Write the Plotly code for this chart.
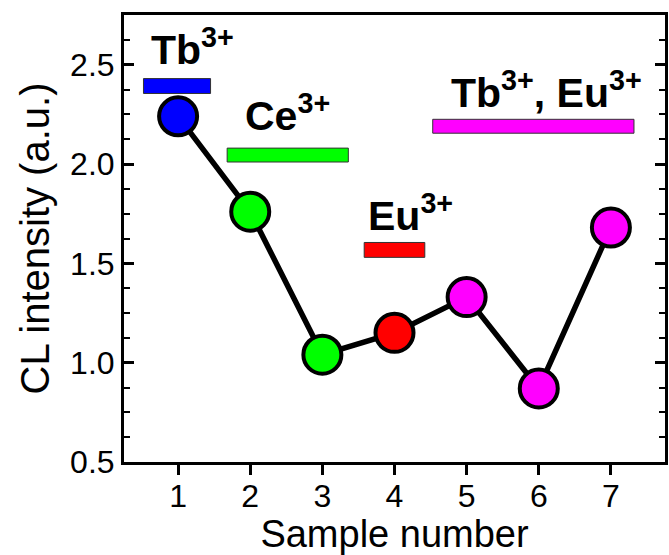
import plotly.graph_objects as go

# Data
sample = [1, 2, 3, 4, 5, 6, 7]
intensity = [2.24, 1.76, 1.04, 1.15, 1.33, 0.87, 1.68]
point_colors = ["#0000FF", "#00FF00", "#00FF00", "#FF0000", "#FF00FF", "#FF00FF", "#FF00FF"]

# Dopant group labels and their indicator bars (data coordinates)
group_labels = ["Tb<sup>3+</sup>", "Ce<sup>3+</sup>", "Eu<sup>3+</sup>", "Tb<sup>3+</sup>, Eu<sup>3+</sup>"]
group_colors = ["#0000FF", "#00FF00", "#FF0000", "#FF00FF"]
bar_x0 = [0.52, 1.68, 3.58, 4.53]
bar_x1 = [1.45, 3.36, 4.42, 7.32]
bar_y0 = [2.355, 2.01, 1.53, 2.155]
bar_y1 = [2.43, 2.08, 1.605, 2.225]
label_x = [0.60, 1.90, 3.60, 4.76]
label_y = [2.45, 2.115, 1.61, 2.23]

FONT = "Arial"

fig = go.Figure()
fig.add_trace(go.Scatter(
    x=sample, y=intensity, mode="lines+markers",
    line=dict(color="black", width=5.5),
    marker=dict(size=38, color=point_colors, line=dict(color="black", width=4)),
    showlegend=False,
))

for i in range(len(group_labels)):
    fig.add_shape(type="rect", xref="x", yref="y",
                  x0=bar_x0[i], x1=bar_x1[i], y0=bar_y0[i], y1=bar_y1[i],
                  fillcolor=group_colors[i], line=dict(color="#333333", width=1))
    fig.add_annotation(x=label_x[i], y=label_y[i], xref="x", yref="y",
                       text="<b>" + group_labels[i] + "</b>", showarrow=False,
                       xanchor="left", yanchor="bottom",
                       font=dict(family=FONT, size=41, color="black"))

fig.update_xaxes(
    range=[0.25, 7.75], tickvals=sample, ticktext=[str(s) for s in sample],
    ticks="outside", ticklen=10, tickwidth=2.5, tickcolor="black",
    ticklabelstandoff=-6,
    showline=True, linewidth=3, linecolor="black", mirror=True,
    showgrid=False, zeroline=False,
    tickfont=dict(family=FONT, size=32, color="black"),
    title=dict(text="Sample number", font=dict(family=FONT, size=38, color="black"), standoff=0),
)
fig.update_yaxes(
    range=[0.5, 2.75], tickvals=[0.5, 1.0, 1.5, 2.0, 2.5], ticktext=["0.5", "1.0", "1.5", "2.0", "2.5"],
    ticks="inside", ticklen=10, tickwidth=2.5, tickcolor="black",
    minor=dict(dtick=0.125, tick0=0.5, ticks="inside", ticklen=6, tickwidth=2, tickcolor="black"),
    showline=True, linewidth=3, linecolor="black", mirror="ticks",
    showgrid=False, zeroline=False,
    tickfont=dict(family=FONT, size=32, color="black"),
    title=dict(text="CL intensity (a.u.)", font=dict(family=FONT, size=40, color="black"), standoff=9),
)

fig.update_layout(
    width=669, height=555,
    margin=dict(l=124, r=1, t=15, b=93),
    paper_bgcolor="white", plot_bgcolor="white",
)

fig.write_html("out.html", config={"displayModeBar": False},
               post_script="document.body.style.margin='0';document.body.style.overflow='hidden';")
